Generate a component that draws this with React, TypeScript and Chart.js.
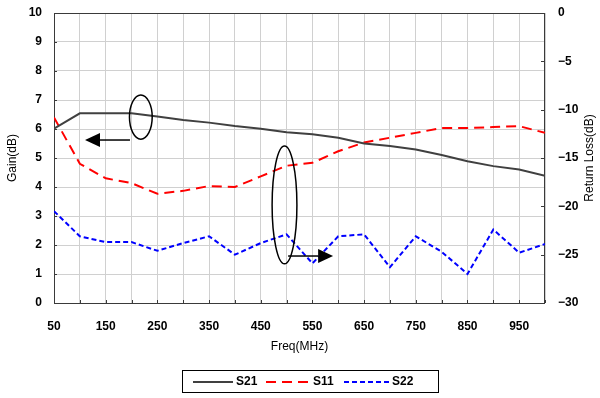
import React, { useEffect, useRef } from 'react';
import { Chart, registerables } from 'chart.js';
Chart.register(...registerables);

const freqs = [50, 100, 150, 200, 250, 300, 350, 400, 450, 500, 550, 600, 650, 700, 750, 800, 850, 900, 950, 1000];
const s21 = [6.01, 6.54, 6.54, 6.54, 6.43, 6.31, 6.22, 6.1, 6.01, 5.89, 5.82, 5.7, 5.5, 5.41, 5.29, 5.1, 4.89, 4.72, 4.6, 4.39];
const s11 = [-10.8, -15.6, -17.1, -17.6, -18.7, -18.4, -17.9, -18.0, -16.9, -15.8, -15.5, -14.3, -13.4, -12.9, -12.4, -11.9, -11.9, -11.8, -11.7, -12.4];
const s22 = [-20.5, -23.1, -23.7, -23.7, -24.6, -23.8, -23.1, -25.0, -23.8, -22.9, -25.9, -23.1, -22.9, -26.3, -23.1, -24.7, -27.0, -22.4, -24.8, -23.9];
const seriesNames = ['S21', 'S11', 'S22'];
const rightTitle = 'Return Loss(dB)';

const FONT = '"Liberation Sans", Arial, sans-serif';

const framePlugin = {
  id: 'frame',
  beforeDatasetsDraw(chart: any) {
    const { ctx, chartArea: a, scales } = chart;
    ctx.save();
    ctx.strokeStyle = '#3a3a3a';
    ctx.lineWidth = 1;
    ctx.beginPath();
    scales.y.ticks.forEach((t: any) => {
      const py = Math.round(scales.y.getPixelForValue(t.value)) + 0.5;
      ctx.moveTo(a.left, py); ctx.lineTo(a.left + 3, py);
    });
    scales.y2.ticks.forEach((t: any) => {
      const py = Math.round(scales.y2.getPixelForValue(t.value)) + 0.5;
      ctx.moveTo(a.right - 4, py); ctx.lineTo(a.right, py);
    });
    scales.x.ticks.forEach((t: any) => {
      const px = Math.round(scales.x.getPixelForValue(t.value)) + 0.5;
      ctx.moveTo(px, a.bottom - 3); ctx.lineTo(px, a.bottom);
    });
    ctx.stroke();
    ctx.strokeRect(Math.round(a.left) + 0.5, Math.round(a.top) + 0.5, Math.round(a.right - a.left) - 1, Math.round(a.bottom - a.top));
    ctx.restore();
  },
};

const annotPlugin = {
  id: 'annot',
  afterDatasetsDraw(chart: any) {
    const { ctx, scales } = chart;
    const X = (v: number) => scales.x.getPixelForValue(v);
    const Y = (v: number) => scales.y.getPixelForValue(v);
    ctx.save();
    ctx.strokeStyle = '#000';
    ctx.fillStyle = '#000';
    ctx.lineWidth = 1.5;
    const ellipse = (cx: number, cy: number, rxv: number, ryv: number) => {
      const px = X(cx), py = Y(cy);
      const rx = Math.abs(X(cx + rxv) - px), ry = Math.abs(Y(cy + ryv) - py);
      ctx.beginPath();
      ctx.ellipse(px, py, rx, ry, 0, 0, Math.PI * 2);
      ctx.stroke();
    };
    const arrow = (x1: number, x2: number, yv: number) => {
      const p1 = X(x1), p2 = X(x2), py = Y(yv);
      const dir = p2 > p1 ? 1 : -1;
      const head = 15;
      ctx.beginPath();
      ctx.moveTo(p1, py); ctx.lineTo(p2 - dir * head, py);
      ctx.stroke();
      ctx.beginPath();
      ctx.moveTo(p2, py);
      ctx.lineTo(p2 - dir * head, py - 7);
      ctx.lineTo(p2 - dir * head, py + 7);
      ctx.closePath();
      ctx.fill();
    };
    ellipse(218, 6.41, 22, 0.76);
    arrow(197, 110, 5.62);
    ellipse(496, 3.38, 24, 2.03);
    arrow(503, 590, 1.62);
    ctx.restore();
  },
};

const legendPlugin = {
  id: 'boxLegend',
  afterDraw(chart: any) {
    const { ctx, chartArea: a } = chart;
    const ds = chart.data.datasets;
    ctx.save();
    ctx.fillStyle = '#000';
    ctx.font = `12px ${FONT}`;
    ctx.textAlign = 'center';
    ctx.textBaseline = 'middle';
    ctx.translate(590, (a.top + a.bottom) / 2);
    ctx.rotate(-Math.PI / 2);
    ctx.fillText(rightTitle, 0, 0);
    ctx.setTransform(1, 0, 0, 1, 0, 0);

    ctx.strokeStyle = '#000';
    ctx.lineWidth = 1;
    ctx.strokeRect(182.5, 370.5, 256, 22);
    const items = [
      { x0: 193, x1: 233, tx: 236 },
      { x0: 266, x1: 310, tx: 313 },
      { x0: 344, x1: 389, tx: 392 },
    ];
    const ly = 382;
    items.forEach((it, i) => {
      const d = ds[i];
      ctx.strokeStyle = d.borderColor;
      ctx.lineWidth = d.borderWidth;
      ctx.setLineDash(d.borderDash || []);
      ctx.beginPath();
      ctx.moveTo(it.x0, ly); ctx.lineTo(it.x1, ly);
      ctx.stroke();
      ctx.setLineDash([]);
      ctx.fillStyle = '#000';
      ctx.font = `bold 12px ${FONT}`;
      ctx.textBaseline = 'middle';
      ctx.textAlign = 'left';
      ctx.fillText(d.label, it.tx, ly);
    });
    ctx.restore();
  },
};

export default function App() {
  const ref = useRef<HTMLCanvasElement>(null);
  useEffect(() => {
    document.body.style.margin = '0';
    const gridColor = '#d0d0d0';
    const tickFont = { family: FONT, size: 12, weight: 'bold' as const };
    const titleFont = { family: FONT, size: 12 };
    const fitV = (w: number) => (s: any) => { s.width = w; s.paddingTop = 0; s.paddingBottom = 0; };
    const chart = new Chart(ref.current!, {
      type: 'line',
      data: {
        datasets: [
          {
            label: seriesNames[0],
            data: freqs.map((f, i) => ({ x: f, y: s21[i] })),
            borderColor: '#404040',
            borderWidth: 2,
            yAxisID: 'y',
            pointRadius: 0,
          },
          {
            label: seriesNames[1],
            data: freqs.map((f, i) => ({ x: f, y: s11[i] })),
            borderColor: '#ff0000',
            borderWidth: 2,
            borderDash: [10, 6],
            yAxisID: 'y2',
            pointRadius: 0,
          },
          {
            label: seriesNames[2],
            data: freqs.map((f, i) => ({ x: f, y: s22[i] })),
            borderColor: '#0000ff',
            borderWidth: 2,
            borderDash: [5, 3],
            yAxisID: 'y2',
            pointRadius: 0,
          },
        ] as any,
      },
      options: {
        responsive: false,
        animation: false,
        layout: { padding: { top: 13, bottom: 40, left: 0, right: 0 } },
        plugins: { legend: { display: false }, tooltip: { enabled: false } },
        scales: {
          x: {
            type: 'linear',
            min: 50,
            max: 1000,
            afterFit: (s: any) => { s.height = 55; s.paddingLeft = 0; s.paddingRight = 0; },
            ticks: {
              stepSize: 50,
              autoSkip: false,
              maxRotation: 0,
              padding: 16,
              color: '#000',
              font: tickFont,
              callback: (v: any) => ((Number(v) - 50) % 100 === 0 ? String(v) : ''),
            },
            grid: { color: gridColor, drawTicks: false },
            border: { display: false },
            title: { display: true, text: 'Freq(MHz)', color: '#000', font: titleFont, padding: { top: 0, bottom: 4 } },
          },
          y: {
            type: 'linear',
            position: 'left',
            min: 0,
            max: 10,
            afterFit: fitV(54),
            ticks: { stepSize: 1, padding: 12, color: '#000', font: tickFont },
            grid: { color: gridColor, drawTicks: false },
            border: { display: false },
            title: { display: true, text: 'Gain(dB)', color: '#000', font: titleFont, padding: { top: 5, bottom: 0 } },
          },
          y2: {
            type: 'linear',
            position: 'right',
            min: -30,
            max: 0,
            afterFit: fitV(55),
            ticks: {
              stepSize: 5,
              padding: 13,
              color: '#000',
              font: tickFont,
              callback: (v: any) => (Number(v) < 0 ? '\u2212' + Math.abs(Number(v)) : String(v)),
            },
            grid: { drawOnChartArea: false, drawTicks: false },
            border: { display: false },
            title: { display: false },
          },
        },
      } as any,
      plugins: [framePlugin, annotPlugin, legendPlugin],
    });
    return () => chart.destroy();
  }, []);
  return (
    <div style={{ width: 600, height: 398 }}>
      <canvas ref={ref} width={600} height={398} style={{ display: 'block' }} />
    </div>
  );
}
